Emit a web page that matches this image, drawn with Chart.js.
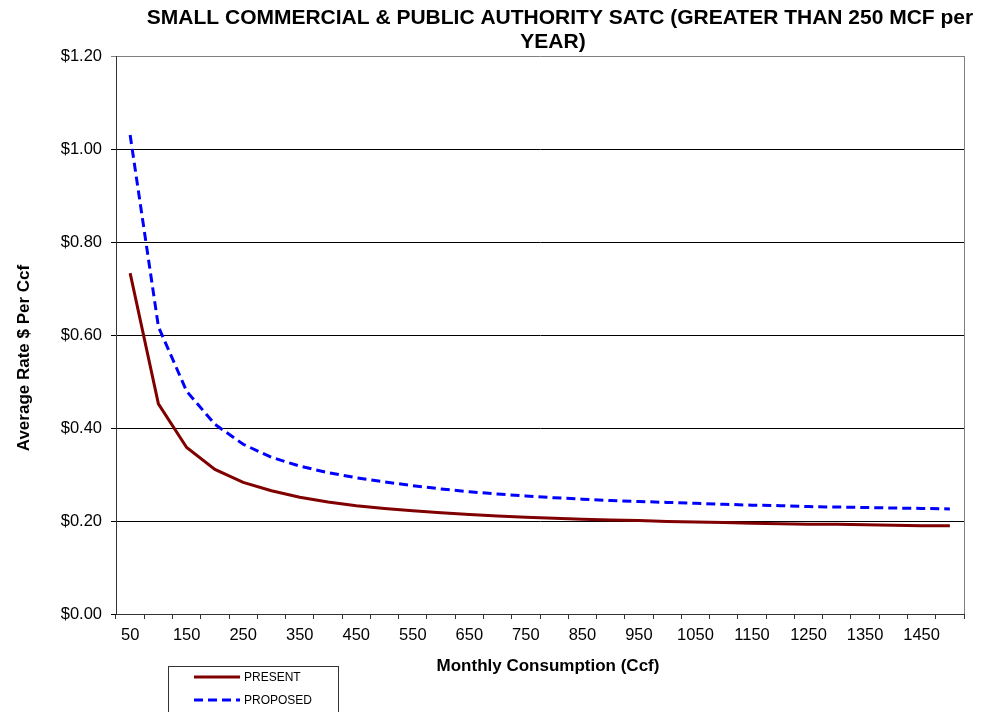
<!DOCTYPE html>
<html>
<head>
<meta charset="utf-8">
<script src="https://cdn.jsdelivr.net/npm/chart.js@4/dist/chart.umd.min.js"></script>
<style>
  html, body { margin: 0; padding: 0; background: #ffffff; }
  #wrap { width: 984px; height: 712px; position: relative; }
</style>
</head>
<body>
<div id="wrap"><canvas id="rateChart" width="984" height="712"></canvas></div>
<script>
// Monthly consumption steps (Ccf)
const consumption = [50, 100, 150, 200, 250, 300, 350, 400, 450, 500,
                     550, 600, 650, 700, 750, 800, 850, 900, 950, 1000,
                     1050, 1100, 1150, 1200, 1250, 1300, 1350, 1400, 1450, 1500];

// Average rate, $ per Ccf
const presentRate = [0.733, 0.452, 0.358, 0.311, 0.283, 0.265, 0.251, 0.241, 0.233, 0.227,
                     0.222, 0.218, 0.214, 0.211, 0.208, 0.206, 0.204, 0.202, 0.201, 0.199,
                     0.198, 0.197, 0.195, 0.194, 0.193, 0.193, 0.192, 0.191, 0.190, 0.190];
const proposedRate = [1.030, 0.618, 0.479, 0.408, 0.365, 0.337, 0.318, 0.304, 0.293, 0.284,
                      0.276, 0.269, 0.263, 0.258, 0.254, 0.250, 0.247, 0.244, 0.242, 0.240,
                      0.238, 0.236, 0.234, 0.233, 0.231, 0.230, 0.229, 0.228, 0.227, 0.226];

const seriesNames = ['PRESENT', 'PROPOSED'];
const chartTitle = ['SMALL COMMERCIAL & PUBLIC AUTHORITY SATC (GREATER THAN 250 MCF per', 'YEAR)'];
const xAxisTitle = 'Monthly Consumption (Ccf)';
const yAxisTitle = 'Average Rate $ Per Ccf';
const yMin = 0, yMax = 1.2, yStep = 0.2;

const FONT = '"Liberation Sans", Arial, Helvetica, sans-serif';

// Title, axis titles, right frame edge and boxed legend
const decorations = {
  id: 'decorations',
  beforeDatasetsDraw(chart) {
    const { ctx, chartArea: a } = chart;
    ctx.save();
    ctx.strokeStyle = '#808080';
    ctx.lineWidth = 1;
    ctx.beginPath();
    ctx.moveTo(Math.round(a.right) + 0.5, a.top);
    ctx.lineTo(Math.round(a.right) + 0.5, a.bottom);
    ctx.stroke();
    ctx.restore();
  },
  afterDraw(chart) {
    const { ctx } = chart;
    ctx.save();
    ctx.fillStyle = '#000';
    ctx.textAlign = 'center';
    ctx.textBaseline = 'middle';
    ctx.font = 'bold 21px ' + FONT;
    ctx.fillText(chartTitle[0], 560, 18);
    ctx.fillText(chartTitle[1], 553, 42);

    ctx.font = 'bold 17px ' + FONT;
    ctx.fillText(xAxisTitle, 548, 666);

    ctx.save();
    ctx.translate(24, 358);
    ctx.rotate(-Math.PI / 2);
    ctx.fillText(yAxisTitle, 0, 0);
    ctx.restore();

    // legend box
    ctx.strokeStyle = '#333333';
    ctx.lineWidth = 1;
    ctx.strokeRect(168.5, 666.5, 170, 60);
    ctx.font = '12px ' + FONT;
    ctx.textAlign = 'left';
    const rows = [677, 700];
    chart.data.datasets.forEach((ds, i) => {
      ctx.save();
      ctx.strokeStyle = ds.borderColor;
      ctx.lineWidth = ds.borderWidth;
      ctx.setLineDash(ds.borderDash || []);
      ctx.beginPath();
      ctx.moveTo(194, rows[i]);
      ctx.lineTo(240, rows[i]);
      ctx.stroke();
      ctx.restore();
      ctx.fillStyle = '#000';
      ctx.fillText(ds.label, 244, rows[i] + 0.5);
    });
    ctx.restore();
  }
};

new Chart(document.getElementById('rateChart'), {
  type: 'line',
  data: {
    labels: consumption,
    datasets: [
      { label: seriesNames[0], data: presentRate, borderColor: '#800000',
        borderWidth: 3, pointRadius: 0, tension: 0, fill: false },
      { label: seriesNames[1], data: proposedRate, borderColor: '#0000FF',
        borderWidth: 3, borderDash: [9, 5], pointRadius: 0, tension: 0, fill: false }
    ]
  },
  options: {
    responsive: false,
    animation: false,
    devicePixelRatio: 1,
    layout: { padding: { top: 56, right: 20, bottom: 0, left: 0 } },
    plugins: {
      legend: { display: false },
      title: { display: false },
      tooltip: { enabled: false }
    },
    scales: {
      x: {
        type: 'category',
        offset: true,
        afterFit(scale) { scale.height = 98; },
        grid: { display: true, offset: true, drawOnChartArea: false, drawTicks: true,
                tickLength: 5, color: '#333333' },
        border: { display: true, color: '#333333', width: 1 },
        ticks: {
          autoSkip: false, maxRotation: 0, minRotation: 0, padding: 7,
          color: '#000', font: { family: FONT, size: 16.5 },
          callback(value, index) { return index % 2 === 0 ? this.getLabelForValue(value) : ''; }
        }
      },
      y: {
        min: yMin, max: yMax,
        afterFit(scale) { scale.width = 116; },
        grid: {
          drawTicks: true, tickLength: 5,
          color(c) { return c.tick && c.tick.value > yMax - 0.01 ? '#808080' : '#000000'; }
        },
        border: { display: true, color: '#333333', width: 1 },
        ticks: {
          stepSize: yStep, padding: 9, color: '#000',
          font: { family: FONT, size: 16.5 },
          callback(value) { return '$' + value.toFixed(2); }
        }
      }
    }
  },
  plugins: [decorations]
});
</script>
</body>
</html>
